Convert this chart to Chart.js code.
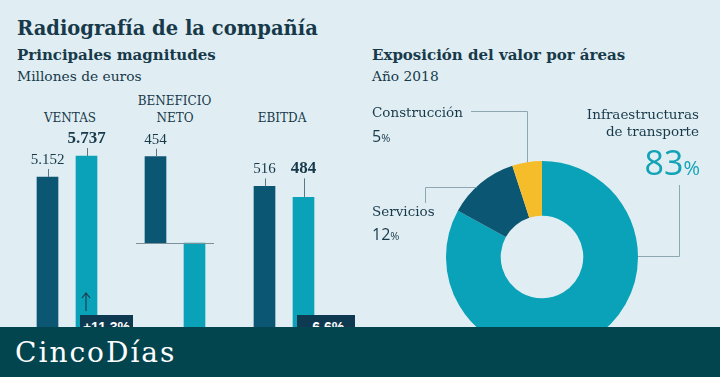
<!DOCTYPE html>
<html>
<head>
<meta charset="utf-8">
<script src="https://cdn.jsdelivr.net/npm/chart.js@4.4.0/dist/chart.umd.min.js"></script>
<style>
html, body { margin: 0; padding: 0; }
body { width: 720px; height: 377px; overflow: hidden; position: relative; background: #e0eef3; font-family: "DejaVu Serif", serif; color: #17394a; }
.t { position: absolute; white-space: nowrap; line-height: 1; }
.c { transform: translateX(-50%); }
.r { text-align: right; }
.b { font-weight: bold; }
.sans { font-family: "Open Sans", sans-serif; }
canvas { position: absolute; }
.box { position: absolute; height: 30px; box-sizing: border-box; padding-top: 5px; background: #0d3a50; color: #fff; font: bold 14px "Liberation Sans", sans-serif; line-height: 1; text-align: center; }
#banner { position: absolute; left: 0; top: 327px; width: 720px; height: 50px; background: #02454f; z-index: 5; }
#banner span { position: absolute; left: 15px; top: 12px; font: 28px "DejaVu Serif", serif; color: #fff; line-height: 1; letter-spacing: 2px; }
</style>
</head>
<body>

<div class="t b" style="left:17px; top:18.5px; font-size:19.5px;">Radiografía de la compañía</div>
<div class="t b" style="left:17px; top:48.3px; font-size:15px;">Principales magnitudes</div>
<div class="t" style="left:17px; top:70.3px; font-size:13.8px;">Millones de euros</div>

<div class="t c" style="left:70px; top:111.9px; font-size:12px;">VENTAS</div>
<div class="t c" style="left:174.5px; top:94.9px; font-size:12px;">BENEFICIO</div>
<div class="t c" style="left:175px; top:111.9px; font-size:12px;">NETO</div>
<div class="t c" style="left:282px; top:111.9px; font-size:12px;">EBITDA</div>

<canvas id="ventas" width="78" height="257" style="left:28px; top:120px;"></canvas>
<canvas id="beneficio" width="78" height="257" style="left:136px; top:120px;"></canvas>
<canvas id="ebitda" width="78" height="257" style="left:245px; top:120px;"></canvas>

<svg style="position:absolute; left:80px; top:290px;" width="12" height="24">
  <path d="M6 3 L6 21 M2 8 L6 3 L10 8" stroke="#1c3e50" stroke-width="1.2" fill="none"/>
</svg>
<div class="box" id="varVentas" style="left:80px; top:315px; width:53px;"></div>
<div class="box" id="varEbitda" style="left:297px; top:315px; width:58px;"></div>

<div class="t b" style="left:372px; top:47.8px; font-size:15px;">Exposición del valor por áreas</div>
<div class="t" style="left:372px; top:70.3px; font-size:13.8px;">Año 2018</div>

<canvas id="areas" width="360" height="287" style="left:360px; top:90px;"></canvas>

<div class="t" style="left:372px; top:105.6px; font-size:13.5px;" id="lab2"></div>
<div class="t sans" style="left:372px; top:127.8px; font-size:16px;" id="pct2"></div>
<div class="t" style="left:372px; top:204.6px; font-size:13.5px;" id="lab1"></div>
<div class="t sans" style="left:372px; top:226.3px; font-size:16px;" id="pct1"></div>
<div class="t r" style="right:21px; top:105.6px; font-size:13.5px; line-height:17px;" id="lab0"></div>
<div class="t r sans" style="right:20px; top:144.8px; font-size:34px; color:#13a3b6;" id="pct0"></div>

<div id="banner"><span>CincoDías</span></div>

<script>
// datos (millones de euros)
const years = ['2017', '2018'];
const ventas = [5152, 5737];
const beneficioNeto = [454, -448];
const ebitda = [516, 484];
const variaciones = ['+11,3%', '-6,6%'];

// exposición por áreas 2018 (%)
const areas = ['Infraestructuras de transporte', 'Servicios', 'Construcción'];
const areaShares = [83, 12, 5];

const DARK = '#0b5672';
const TEAL = '#0aa2b8';
const YELLOW = '#f6bd2a';
const INK = '#17394a';

function fmt(v) {
    return String(v).replace(/\B(?=(\d{3})+(?!\d))/g, '.');
}

// etiquetas de valor encima de cada barra
const valueLabels = {
    id: 'valueLabels',
    afterDatasetsDraw(chart, args, opts) {
        const ctx = chart.ctx;
        const bars = chart.getDatasetMeta(0).data;
        const vals = chart.data.datasets[0].data;
        let ys = bars.map((b, i) => vals[i] >= 0 ? b.y - 13 : null);
        // si las barras son casi iguales, alinear etiquetas
        if (ys[0] !== null && ys[1] !== null && Math.abs(bars[0].y - bars[1].y) < 15) {
            const m = Math.min(ys[0], ys[1]);
            ys = [m, m];
        }
        ctx.save();
        ctx.textAlign = 'center';
        ctx.textBaseline = 'alphabetic';
        bars.forEach((b, i) => {
            if (ys[i] === null) return;
            ctx.fillStyle = INK;
            ctx.font = i === 1 ? 'bold 17px "Liberation Serif"' : '15px "Liberation Serif"';
            ctx.fillText(fmt(vals[i]), b.x, ys[i]);
            ctx.strokeStyle = '#5b7784';
            ctx.lineWidth = 1;
            ctx.beginPath();
            ctx.moveTo(Math.round(b.x) + 0.5, ys[i] + 5);
            ctx.lineTo(Math.round(b.x) + 0.5, b.y);
            ctx.stroke();
        });
        if (opts.zeroLine) {
            const y = Math.round(chart.scales.y.getPixelForValue(0)) + 0.5;
            ctx.strokeStyle = '#7b929b';
            ctx.beginPath();
            ctx.moveTo(chart.chartArea.left, y);
            ctx.lineTo(chart.chartArea.right, y);
            ctx.stroke();
        }
        ctx.restore();
    }
};

function barPanel(id, values, min, max, zeroLine) {
    return new Chart(document.getElementById(id), {
        type: 'bar',
        data: {
            labels: years,
            datasets: [{
                data: values,
                backgroundColor: [DARK, TEAL],
                borderWidth: 0,
                barThickness: 21
            }]
        },
        options: {
            responsive: false,
            animation: false,
            layout: { padding: 0 },
            plugins: {
                legend: { display: false },
                tooltip: { enabled: false },
                valueLabels: { zeroLine: zeroLine }
            },
            scales: {
                x: { display: false },
                y: { display: false, min: min, max: max }
            }
        },
        plugins: [valueLabels]
    });
}

barPanel('ventas', ventas, -418, 6739, false);
barPanel('beneficio', beneficioNeto, -705, 647, true);
barPanel('ebitda', ebitda, -38, 709, false);

document.getElementById('varVentas').textContent = variaciones[0];
document.getElementById('varEbitda').textContent = variaciones[1];

// líneas guía del donut
const anchorFrac = [0.3, 0.42, 0.5];
const leaders = {
    id: 'leaders',
    afterDatasetsDraw(chart) {
        const ctx = chart.ctx;
        const arcs = chart.getDatasetMeta(0).data;
        const pt = (i) => {
            const a = arcs[i];
            const ang = a.startAngle + (a.endAngle - a.startAngle) * anchorFrac[i];
            return { x: a.x + a.outerRadius * Math.cos(ang), y: a.y + a.outerRadius * Math.sin(ang) };
        };
        ctx.save();
        ctx.strokeStyle = '#8ea6af';
        ctx.lineWidth = 1;
        const p0 = pt(0), p1 = pt(1), p2 = pt(2);
        ctx.beginPath();
        // infraestructuras
        ctx.moveTo(p0.x, Math.round(p0.y) + 0.5);
        ctx.lineTo(319.5, Math.round(p0.y) + 0.5);
        ctx.lineTo(319.5, 95);
        // servicios
        ctx.moveTo(p1.x, Math.round(p1.y) + 0.5);
        ctx.lineTo(65.5, Math.round(p1.y) + 0.5);
        ctx.lineTo(65.5, 113);
        // construcción
        ctx.moveTo(Math.round(p2.x) + 0.5, p2.y);
        ctx.lineTo(Math.round(p2.x) + 0.5, 21.5);
        ctx.lineTo(111, 21.5);
        ctx.stroke();
        ctx.restore();
    }
};

new Chart(document.getElementById('areas'), {
    type: 'doughnut',
    data: {
        labels: areas,
        datasets: [{
            data: areaShares,
            backgroundColor: [TEAL, DARK, YELLOW],
            borderWidth: 0
        }]
    },
    options: {
        responsive: false,
        animation: false,
        cutout: '43%',
        layout: { padding: { left: 86, right: 82, top: 71, bottom: 24 } },
        plugins: {
            legend: { display: false },
            tooltip: { enabled: false }
        }
    },
    plugins: [leaders]
});

document.getElementById('lab0').innerHTML = 'Infraestructuras<br>de transporte';
document.getElementById('lab1').textContent = areas[1];
document.getElementById('lab2').textContent = areas[2];
areaShares.forEach((v, i) => {
    const small = i === 0 ? 20 : 11;
    document.getElementById('pct' + i).innerHTML = v + '<span style="font-size:' + small + 'px">%</span>';
});
</script>
</body>
</html>
